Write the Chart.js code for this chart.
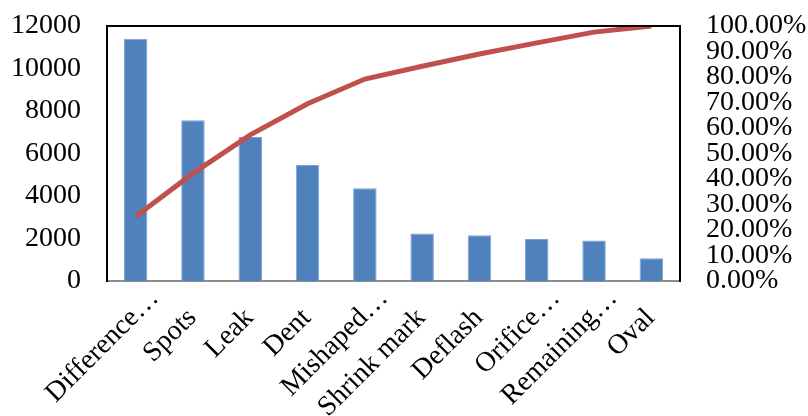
<!DOCTYPE html>
<html>
<head>
<meta charset="utf-8">
<script src="https://cdn.jsdelivr.net/npm/chart.js@4"></script>
<style>
  html, body { margin: 0; padding: 0; background: #fff; }
  #wrap { width: 808px; height: 416px; }
</style>
</head>
<body>
<div id="wrap"><canvas id="paretoChart" width="808" height="416"></canvas></div>
<script>
// defect categories (labels as they appear, truncated)
const categories = ['Difference…', 'Spots', 'Leak', 'Dent', 'Mishaped…', 'Shrink mark', 'Deflash', 'Orifice…', 'Remaining…', 'Oval'];
// defect counts (left axis)
const counts = [11400, 7560, 6780, 5460, 4360, 2240, 2150, 1980, 1910, 1070];
// cumulative percentage (right axis)
const cumulativePct = [25.3, 42.2, 57.3, 69.5, 79.2, 84.2, 89.0, 93.4, 97.6, 100];

const fontSpec = { family: "'Liberation Serif', 'Times New Roman', serif", size: 28 };

// black line on top of plot area
const topBorder = {
    id: 'topBorder',
    afterDraw(chart) {
        const a = chart.chartArea;
        const ctx = chart.ctx;
        ctx.save();
        ctx.strokeStyle = '#000';
        ctx.lineWidth = 2;
        ctx.beginPath();
        ctx.moveTo(a.left, a.top);
        ctx.lineTo(a.right, a.top);
        ctx.stroke();
        ctx.restore();
    }
};

// fixed axis box size, no extra label overflow padding
function fixBox(w) {
    return function(scale) {
        scale.width = w;
        scale.paddingTop = 0;
        scale.paddingBottom = 0;
    };
}

// Excel sets truncated labels one em further out than full ones
function xLabel(value, index) {
    const s = categories[index];
    return s.endsWith('…') ? s : s + '\u2003';
}

const ctx = document.getElementById('paretoChart').getContext('2d');
new Chart(ctx, {
    data: {
        labels: categories,
        datasets: [
            {
                type: 'line',
                data: cumulativePct,
                yAxisID: 'y1',
                borderColor: '#C0504D',
                borderWidth: 5,
                pointRadius: 0,
                tension: 0,
                order: 0
            },
            {
                type: 'bar',
                data: counts,
                yAxisID: 'y',
                backgroundColor: '#4F81BD',
                borderColor: '#7EA3D3',
                borderWidth: 1,
                barPercentage: 0.41,
                categoryPercentage: 1,
                order: 1
            }
        ]
    },
    options: {
        responsive: false,
        animation: false,
        layout: { padding: { top: 26, left: 0, right: 0, bottom: 0 } },
        plugins: {
            legend: { display: false },
            tooltip: { enabled: false }
        },
        scales: {
            x: {
                grid: { display: false, drawTicks: false },
                border: { display: true, color: '#8C8C8C', width: 2 },
                ticks: {
                    color: '#000',
                    font: fontSpec,
                    minRotation: 45,
                    maxRotation: 45,
                    autoSkip: false,
                    padding: 1,
                    labelOffset: 19,
                    callback: xLabel
                },
                afterFit(scale) { scale.height = 135; }
            },
            y: {
                position: 'left',
                min: 0,
                max: 12000,
                grid: { display: false, drawTicks: false },
                border: { display: true, color: '#000', width: 2 },
                ticks: {
                    stepSize: 2000,
                    color: '#000',
                    font: fontSpec,
                    autoSkip: false,
                    padding: 26,
                    callback: v => String(v)
                },
                afterFit: fixBox(107)
            },
            y1: {
                position: 'right',
                min: 0,
                max: 100,
                grid: { display: false, drawTicks: false },
                border: { display: true, color: '#000', width: 2 },
                ticks: {
                    stepSize: 10,
                    color: '#000',
                    font: fontSpec,
                    autoSkip: false,
                    padding: 26,
                    callback: v => v.toFixed(2) + '%'
                },
                afterFit: fixBox(128)
            }
        }
    },
    plugins: [topBorder]
});
</script>
</body>
</html>
